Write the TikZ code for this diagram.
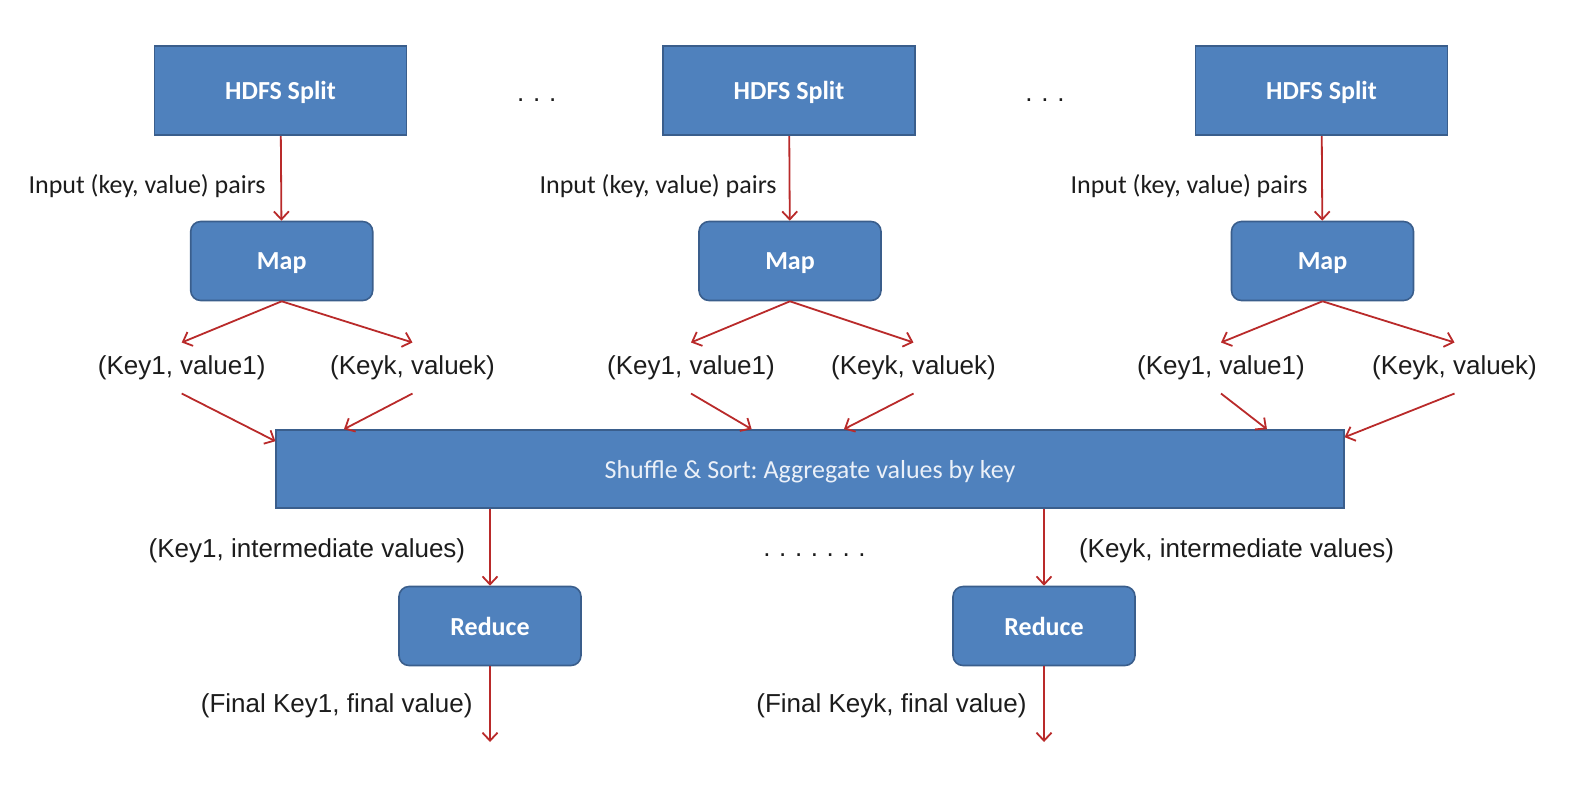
\documentclass[tikz,border=0pt]{standalone}
\usepackage{fontspec}
\setmainfont{Liberation Sans}
\newfontfamily\calibri{Carlito}
\usetikzlibrary{arrows.meta}
\definecolor{boxfill}{RGB}{79,129,189}
\definecolor{boxline}{RGB}{58,94,140}
\definecolor{arr}{RGB}{185,42,42}
\definecolor{txt}{RGB}{28,28,28}
\definecolor{lighttxt}{RGB}{235,240,248}
\newcommand{\tdots}{.\kern4.4pt.\kern4.4pt.}
\newcommand{\sdots}{.\kern4.3pt.\kern4.3pt.\kern4.3pt.\kern4.3pt.\kern4.3pt.\kern4.3pt.}
\frenchspacing
\begin{document}
\begin{tikzpicture}[x=0.5pt,y=-0.5pt,
  boxbase/.style={draw=boxline, fill=boxfill, line width=0.8pt, inner sep=0pt, text=white,
    text depth=0pt, font=\calibri\bfseries\fontsize{13}{15}\selectfont},
  splitbox/.style={boxbase, minimum width=126pt, minimum height=44.75pt},
  roundbox/.style={boxbase, rounded corners=5pt, minimum width=91pt, minimum height=39.5pt},
  shufflebox/.style={boxbase, minimum width=533.75pt, minimum height=39pt, text=lighttxt,
    font=\calibri\fontsize{13}{15}\selectfont},
  kv/.style={inner xsep=0pt, inner ysep=6.5pt, text=txt, font=\fontsize{13}{15}\selectfont},
  lbl/.style={inner sep=0pt, text=txt, font=\fontsize{13}{15}\selectfont},
  inlbl/.style={inner sep=0pt, text=txt, font=\calibri\fontsize{13}{15}\selectfont},
  flow/.style={draw=arr, line width=0.9pt, -{Straight Barb[length=4pt,width=7.5pt,line width=0.9pt]}}
]
\useasboundingbox (0,0) rectangle (1594,804);

% HDFS splits
\node[splitbox] (s1) at (280.5,90.5) {HDFS Split};
\node[splitbox] (s2) at (789,90.5) {HDFS Split};
\node[splitbox] (s3) at (1321.5,90.5) {HDFS Split};
\node[lbl, anchor=base] (d1) at (536.7,101) {\tdots};
\node[lbl, anchor=base] (d2) at (1045,101) {\tdots};

% Maps
\node[roundbox] (m1) at (281.7,261) {Map};
\node[roundbox] (m2) at (790,261) {Map};
\node[roundbox] (m3) at (1322.5,261) {Map};

\node[inlbl, anchor=east] (i1) at (266,186) {Input (key, value) pairs};
\node[inlbl, anchor=east] (i2) at (777,186) {Input (key, value) pairs};
\node[inlbl, anchor=east] (i3) at (1308,186) {Input (key, value) pairs};

\draw[flow] (s1) -- (m1);
\draw[flow] (s2) -- (m2);
\draw[flow] (s3) -- (m3);

% key/value labels
\node[kv] (a1) at (181.7,368) {(Key1, value1)};
\node[kv] (b1) at (412.5,368) {(Keyk, valuek)};
\node[kv] (a2) at (691,368) {(Key1, value1)};
\node[kv] (b2) at (913.5,368) {(Keyk, valuek)};
\node[kv] (a3) at (1221,368) {(Key1, value1)};
\node[kv] (b3) at (1454.5,368) {(Keyk, valuek)};

\draw[flow] (m1.south) -- (a1.north);
\draw[flow] (m1.south) -- (b1.north);
\draw[flow] (m2.south) -- (a2.north);
\draw[flow] (m2.south) -- (b2.north);
\draw[flow] (m3.south) -- (a3.north);
\draw[flow] (m3.south) -- (b3.north);

% Shuffle
\node[shufflebox] (sh) at (810,469) {Shuffle \& Sort: Aggregate values by key};

\draw[flow] (a1.south) -- ([yshift=-6pt]sh.north west);
\draw[flow] (b1.south) -- ([xshift=34.25pt]sh.north west);
\draw[flow] (a2.south) -- ([xshift=238.1pt]sh.north west);
\draw[flow] (b2.south) -- ([xshift=284.25pt]sh.north west);
\draw[flow] (a3.south) -- ([xshift=495.75pt]sh.north west);
\draw[flow] (b3.south) -- ([yshift=-4pt]sh.north east);

% Reduce
\node[roundbox] (r1) at (490,626) {Reduce};
\node[roundbox] (r2) at (1044,626) {Reduce};

\draw[flow] (sh.south -| r1.north) -- (r1.north);
\draw[flow] (sh.south -| r2.north) -- (r2.north);

\node[lbl, anchor=east] (k1) at (465.6,551) {(Key1, intermediate values)};
\node[lbl, anchor=west] (kk) at (1078.6,551) {(Keyk, intermediate values)};
\node[lbl, anchor=base west] (d3) at (763,556) {\sdots};

\coordinate (e1) at (490,742);
\coordinate (e2) at (1044,742);
\draw[flow] (r1) -- (e1);
\draw[flow] (r2) -- (e2);

\node[lbl, anchor=east] (f1) at (473,705.5) {(Final Key1, final value)};
\node[lbl, anchor=east] (f2) at (1027,705.5) {(Final Keyk, final value)};
\end{tikzpicture}
\end{document}
